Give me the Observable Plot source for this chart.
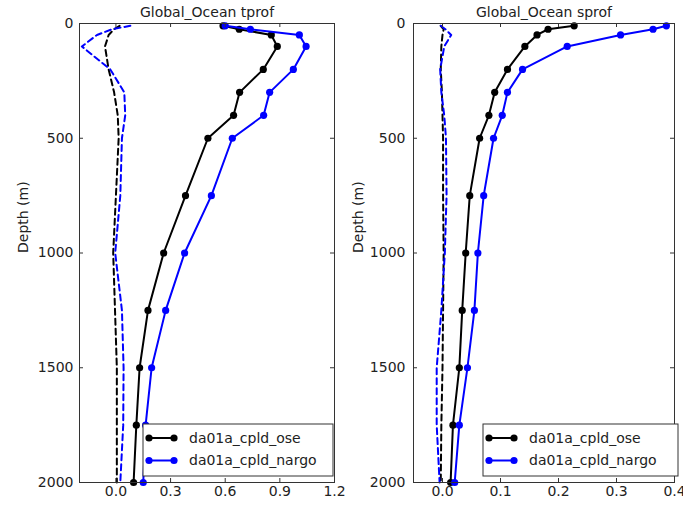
<!DOCTYPE html>
<html><head><meta charset="utf-8">
<script src="https://cdn.jsdelivr.net/npm/d3@7"></script>
<script src="https://cdn.jsdelivr.net/npm/@observablehq/plot@0.6"></script>
<style>
body{margin:0;background:#fff}
#wrap{position:relative;width:683px;height:507px;overflow:hidden;background:#fff}
#wrap svg{position:absolute;top:0}
</style>
</head><body><div id="wrap"></div>
<script>
const depths = [10, 25, 50, 100, 200, 300, 400, 500, 750, 1000, 1250, 1500, 1750, 2000];
const seriesNames = ["da01a_cpld_ose", "da01a_cpld_nargo"];
const seriesColors = ["#000000", "#0000ff"];

// temperature profiles (solid = RMS-like, dashed = bias-like)
const tOse       = [0.588, 0.677, 0.853, 0.886, 0.809, 0.679, 0.646, 0.505, 0.382, 0.262, 0.176, 0.130, 0.112, 0.097];
const tNargo     = [0.600, 0.738, 1.007, 1.044, 0.974, 0.844, 0.811, 0.639, 0.524, 0.377, 0.273, 0.196, 0.163, 0.150];
const tOseDash   = [0.020, -0.010, -0.040, -0.060, -0.040, -0.010, 0.010, 0.015, 0.000, -0.015, -0.005, 0.005, 0.005, 0.005];
const tNargoDash = [0.079, -0.022, -0.104, -0.187, -0.031, 0.046, 0.051, 0.033, 0.024, -0.004, 0.033, 0.042, 0.040, 0.024];

// salinity profiles
const sOse       = [0.227, 0.182, 0.163, 0.142, 0.112, 0.090, 0.080, 0.064, 0.047, 0.040, 0.034, 0.029, 0.018, 0.014];
const sNargo     = [0.386, 0.363, 0.307, 0.215, 0.138, 0.112, 0.103, 0.088, 0.071, 0.061, 0.055, 0.043, 0.029, 0.021];
const sOseDash   = [-0.003, 0.002, 0.000, -0.002, -0.003, -0.001, 0.000, 0.001, 0.001, 0.002, 0.001, 0.000, -0.002, -0.003];
const sNargoDash = [-0.003, 0.005, 0.015, 0.003, -0.004, -0.002, 0.003, 0.006, 0.007, 0.004, -0.002, -0.010, -0.010, -0.005];

const tTicks = [0.0, 0.3, 0.6, 0.9, 1.2];
const sTicks = [0.0, 0.1, 0.2, 0.3, 0.4];
const depthTicks = [0, 500, 1000, 1500, 2000];
const titles = ["Global_Ocean tprof", "Global_Ocean sprof"];
const yLabel = "Depth (m)";

const H = 507;
const FONT = "DejaVu Sans, sans-serif";

function rows(values) { return depths.map((d, j) => ({depth: d, value: values[j]})); }

function panel(o) {
  const fw = o.width - o.mL - o.mR;
  const fh = H - 23 - 25;
  const marks = [];
  // dashed profiles
  o.dashed.forEach((v, i) => marks.push(Plot.line(rows(v), {x: "value", y: "depth", stroke: seriesColors[i], strokeWidth: 2, strokeDasharray: "6,4"})));
  // solid profiles with markers
  o.solid.forEach((v, i) => {
    marks.push(Plot.line(rows(v), {x: "value", y: "depth", stroke: seriesColors[i], strokeWidth: 2}));
    marks.push(Plot.dot(rows(v), {x: "value", y: "depth", fill: seriesColors[i], r: 3.6, stroke: "none"}));
  });
  // inward ticks on four sides
  marks.push(Plot.tickX(o.xTicks, {x: d => d, insetTop: fh - 4, stroke: "#333"}));
  marks.push(Plot.tickX(o.xTicks, {x: d => d, insetBottom: fh - 4, stroke: "#333"}));
  marks.push(Plot.tickY(depthTicks, {y: d => d, insetRight: fw - 4, stroke: "#333"}));
  marks.push(Plot.tickY(depthTicks, {y: d => d, insetLeft: fw - 4, stroke: "#333"}));
  marks.push(Plot.frame({stroke: "#333", strokeWidth: 1}));
  marks.push(Plot.axisX({ticks: o.xTicks, tickSize: 0, tickPadding: 4, tickFormat: d3.format(".1f"), label: null, fontSize: 14}));
  marks.push(Plot.axisY({ticks: depthTicks, tickSize: 0, tickPadding: o.yPad, tickFormat: d => String(d), label: null, fontSize: 14}));
  marks.push(Plot.text([o.title], {text: d => d, frameAnchor: "top", dy: -11, fontSize: 14, lineAnchor: "middle"}));
  marks.push(Plot.text([yLabel], {text: d => d, frameAnchor: "left", rotate: -90, dx: o.labelDx, fontSize: 14, lineAnchor: "middle"}));

  const svg = Plot.plot({
    width: o.width, height: H,
    marginLeft: o.mL, marginRight: o.mR, marginTop: 23, marginBottom: 25,
    style: {fontFamily: FONT, fontSize: "14px", color: "#222", background: "transparent", overflow: "visible"},
    x: {domain: o.xDomain},
    y: {domain: [0, 2000], reverse: true},
    marks
  });
  svg.style.left = o.left + "px";

  // legend (lower right)
  const g = d3.select(svg).append("g").attr("font-family", FONT).attr("font-size", 14).attr("text-anchor", "start");
  const L = o.legend;
  g.append("rect").attr("x", L.x).attr("y", 424).attr("width", L.w).attr("height", 52)
    .attr("fill", "#fff").attr("stroke", "#333").attr("stroke-width", 1);
  seriesNames.forEach((name, i) => {
    const yy = 438 + i * 22.5;
    g.append("line").attr("x1", L.x + 6).attr("x2", L.x + 31).attr("y1", yy).attr("y2", yy)
      .attr("stroke", seriesColors[i]).attr("stroke-width", 2);
    [L.x + 6, L.x + 31].forEach(cx => g.append("circle").attr("cx", cx).attr("cy", yy).attr("r", 3.6).attr("fill", seriesColors[i]));
    g.append("text").attr("x", L.x + 46).attr("y", yy).attr("dy", "0.35em").attr("text-anchor", "start").attr("fill", "#222").text(name);
  });
  return svg;
}

const wrap = document.getElementById("wrap");
wrap.appendChild(panel({
  left: 0, width: 342, mL: 79, mR: 8, xDomain: [-0.2, 1.2], xTicks: tTicks,
  solid: [tOse, tNargo], dashed: [tOseDash, tNargoDash], title: titles[0],
  yPad: 6, labelDx: -56, legend: {x: 143, w: 190}
}));
wrap.appendChild(panel({
  left: 342, width: 341, mL: 71, mR: 9, xDomain: [-0.05, 0.4], xTicks: sTicks,
  solid: [sOse, sNargo], dashed: [sOseDash, sNargoDash], title: titles[1],
  yPad: 8, labelDx: -55, legend: {x: 141, w: 195}
}));
</script>
</body></html>
